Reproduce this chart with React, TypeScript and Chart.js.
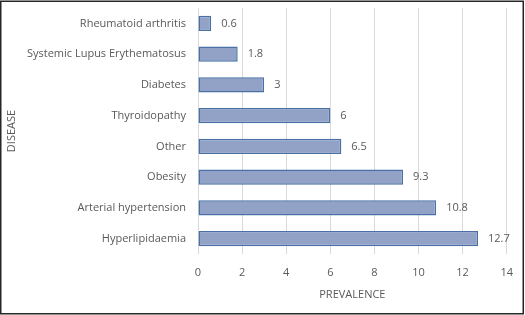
import React, { useEffect, useRef } from "react";
import { Chart, registerables } from "chart.js";

Chart.register(...registerables);

const categories = [
  "Rheumatoid arthritis",
  "Systemic Lupus Erythematosus",
  "Diabetes",
  "Thyroidopathy",
  "Other",
  "Obesity",
  "Arterial hypertension",
  "Hyperlipidaemia",
];
const prevalence = [0.6, 1.8, 3, 6, 6.5, 9.3, 10.8, 12.7];
const xTicks = [0, 2, 4, 6, 8, 10, 12, 14];

const FONT = "'Open Sans', sans-serif";
const TEXT = "#595959";

const valueLabels = {
  id: "valueLabels",
  afterDatasetsDraw(chart: any) {
    const ctx = chart.ctx;
    const meta = chart.getDatasetMeta(0);
    ctx.save();
    ctx.font = `11px ${FONT}`;
    ctx.fillStyle = TEXT;
    ctx.textBaseline = "middle";
    ctx.textAlign = "left";
    meta.data.forEach((el: any, i: number) => {
      ctx.fillText(String(prevalence[i]), el.x + 10, el.y);
    });
    ctx.restore();
  },
};

const frame = {
  id: "frame",
  afterDraw(chart: any) {
    const ctx = chart.ctx;
    ctx.save();
    ctx.strokeStyle = "#262626";
    ctx.lineWidth = 1.5;
    ctx.strokeRect(0.75, 1.25, 522.5, 312.5);
    ctx.restore();
  },
};

export default function App() {
  const ref = useRef<HTMLCanvasElement>(null);
  useEffect(() => {
    document.body.style.margin = "0";
    const chart = new Chart(ref.current!, {
      type: "bar",
      data: {
        labels: categories,
        datasets: [
          {
            data: prevalence,
            backgroundColor: "#91a2c6",
            borderColor: "#4a70a6",
            borderWidth: 1.5,
            borderSkipped: false,
            barPercentage: 0.5,
            categoryPercentage: 1,
          },
        ],
      },
      options: {
        indexAxis: "y",
        animation: false,
        responsive: false,
        maintainAspectRatio: false,
        layout: { padding: { left: 0, right: 15, top: 8, bottom: 0 } },
        plugins: { legend: { display: false }, tooltip: { enabled: false } },
        scales: {
          x: {
            min: 0,
            max: 14,
            afterBuildTicks(axis: any) {
              axis.ticks = xTicks.map((v) => ({ value: v }));
            },
            afterFit(axis: any) {
              axis.height = 61;
            },
            grid: { color: "#d9d9d9", drawTicks: false },
            border: { display: false },
            ticks: { color: TEXT, font: { family: FONT, size: 11 }, padding: 12 },
            title: {
              display: true,
              text: "PREVALENCE",
              color: TEXT,
              font: { family: FONT, size: 11 },
              padding: { top: 0, bottom: 14 },
            },
          },
          y: {
            afterFit(axis: any) {
              axis.width = 198;
              axis.paddingTop = 0;
              axis.paddingBottom = 0;
            },
            grid: { display: false, drawTicks: false },
            border: { display: false },
            ticks: { color: TEXT, font: { family: FONT, size: 11 }, padding: 12 },
            title: {
              display: true,
              text: "DISEASE",
              color: TEXT,
              font: { family: FONT, size: 11 },
              padding: { top: 5, bottom: 0 },
            },
          },
        },
      },
      plugins: [valueLabels, frame],
    });
    return () => chart.destroy();
  }, []);
  return (
    <div style={{ position: "fixed", left: 0, top: 0, width: 525, height: 315 }}>
      <canvas ref={ref} width={525} height={315} />
    </div>
  );
}
